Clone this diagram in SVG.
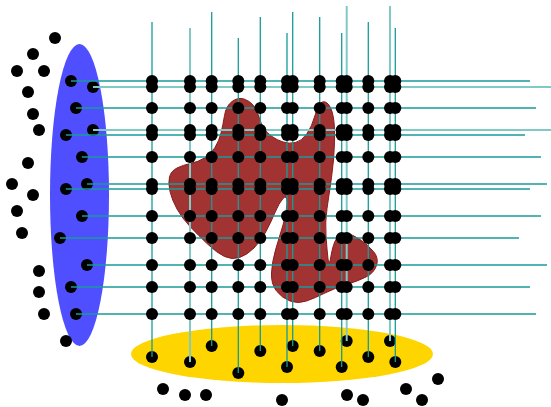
<svg xmlns="http://www.w3.org/2000/svg" width="551" height="407" viewBox="0 0 551 407">
<style>
.d{fill:#000}
.dk{stroke:#179b98;stroke-width:1.3;fill:none}
.lt{stroke:#80c9c5;stroke-width:2;fill:none}
</style>
<rect width="551" height="407" fill="#fff"/>
<g id="blue-region"><ellipse cx="79.5" cy="195" rx="29.5" ry="151" fill="#4f4fff"/></g>
<g id="yellow-region"><ellipse cx="282" cy="354" rx="151" ry="29" fill="#ffd500"/></g>
<g id="red-region"><path fill="#a13333" stroke="#8a1c1c" stroke-width="1" d="M232,101.5 Q238,97 244,99 Q250,101 253.5,105.5 Q257,110 259,117 Q261,124 264,128.5 Q267,133 272,136.5 Q277,140 283,142 Q289,144 295.5,142.5 Q302,141 307,133.5 Q312,126 314.5,117 Q317,108 320,104 Q323,100 327,103 Q331,106 333,115.5 Q335,125 334.5,142.5 Q334,160 331.5,177.5 Q329,195 327,208.5 Q325,222 326,236 Q327,250 328,259 Q329,268 331,256 Q333,244 336.5,238.5 Q340,233 346,233.5 Q352,234 360,239.5 Q368,245 373.5,251.5 Q379,258 376.5,265.5 Q374,273 366,277 Q358,281 346.5,284.5 Q335,288 325,293 Q315,298 306.5,301 Q298,304 290,301 Q282,298 276.5,291 Q271,284 271.5,273 Q272,262 275.5,250 Q279,238 283,225 Q287,212 287,203 Q287,194 283,198.5 Q279,203 275,212.5 Q271,222 266,231.5 Q261,241 254,248 Q247,255 239.5,257.5 Q232,260 224.5,256.5 Q217,253 207.5,244 Q198,235 190,226.5 Q182,218 177,209 Q172,200 170,191.5 Q168,183 169.5,177 Q171,171 177,168 Q183,165 190.5,163.5 Q198,162 204.5,158 Q211,154 215,147.5 Q219,141 221,133 Q223,125 224.5,115.5 Q226,106 232,101.5 Z"/></g>
<g id="free-dots" class="d">
<circle cx="55" cy="38" r="6"/><circle cx="33" cy="54" r="6"/><circle cx="17" cy="71" r="6"/><circle cx="44" cy="71" r="6"/>
<circle cx="28" cy="92" r="6"/><circle cx="33" cy="114" r="6"/><circle cx="39" cy="130" r="6"/><circle cx="28" cy="163" r="6"/>
<circle cx="12" cy="184" r="6"/><circle cx="33" cy="195" r="6"/><circle cx="17" cy="211" r="6"/><circle cx="22" cy="233" r="6"/>
<circle cx="39" cy="271" r="6"/><circle cx="39" cy="292" r="6"/><circle cx="44" cy="314" r="6"/><circle cx="66" cy="341" r="6"/>
<circle cx="163" cy="389" r="6"/><circle cx="185" cy="395" r="6"/><circle cx="206" cy="395" r="6"/><circle cx="282" cy="400" r="6"/>
<circle cx="347" cy="395" r="6"/><circle cx="363" cy="400" r="6"/><circle cx="406" cy="389" r="6"/><circle cx="422" cy="400" r="6"/><circle cx="438" cy="379" r="6"/>
</g>
<g id="end-dots" class="d">
<circle cx="71" cy="81" r="6"/><circle cx="93" cy="87" r="6"/><circle cx="76" cy="108" r="6"/><circle cx="93" cy="130" r="6"/>
<circle cx="66" cy="135" r="6"/><circle cx="82" cy="157" r="6"/><circle cx="87" cy="184" r="6"/><circle cx="66" cy="189" r="6"/>
<circle cx="82" cy="216" r="6"/><circle cx="60" cy="238" r="6"/><circle cx="87" cy="265" r="6"/><circle cx="71" cy="287" r="6"/><circle cx="76" cy="314" r="6"/>
<circle cx="152" cy="357" r="6"/><circle cx="190" cy="362" r="6"/><circle cx="211.7" cy="346" r="6"/><circle cx="238.3" cy="373" r="6"/>
<circle cx="260.3" cy="351" r="6"/><circle cx="287" cy="367" r="6"/><circle cx="292.7" cy="346" r="6"/><circle cx="319.7" cy="351" r="6"/>
<circle cx="341.7" cy="367" r="6"/><circle cx="346.7" cy="341" r="6"/><circle cx="368.3" cy="357" r="6"/><circle cx="390" cy="341" r="6"/><circle cx="395.3" cy="362" r="6"/>
</g>
<g id="connectors">
<line class="dk" x1="71" y1="81" x2="530" y2="81"/>
<line class="lt" x1="93" y1="87" x2="551" y2="87"/>
<line class="dk" x1="76" y1="108" x2="536" y2="108"/>
<line class="lt" x1="93" y1="130" x2="551" y2="130"/>
<line class="dk" x1="66" y1="135" x2="525" y2="135"/>
<line class="dk" x1="82" y1="157" x2="541" y2="157"/>
<line class="dk" x1="87" y1="184" x2="547" y2="184"/>
<line class="dk" x1="66" y1="189" x2="530" y2="189"/>
<line class="dk" x1="82" y1="216" x2="541" y2="216"/>
<line class="dk" x1="60" y1="238" x2="519" y2="238"/>
<line class="dk" x1="87" y1="265" x2="547" y2="265"/>
<line class="dk" x1="71" y1="287" x2="530" y2="287"/>
<line class="dk" x1="76" y1="314" x2="536" y2="314"/>
<line class="dk" x1="152" y1="22" x2="152" y2="357"/>
<line class="lt" x1="190" y1="28" x2="190" y2="362"/>
<line class="dk" x1="211.7" y1="12" x2="211.7" y2="346"/>
<line class="dk" x1="238.3" y1="38" x2="238.3" y2="373"/>
<line class="dk" x1="260.3" y1="17" x2="260.3" y2="351"/>
<line class="dk" x1="287" y1="33" x2="287" y2="367"/>
<line class="dk" x1="292.7" y1="12" x2="292.7" y2="346"/>
<line class="dk" x1="319.7" y1="17" x2="319.7" y2="351"/>
<line class="dk" x1="341.7" y1="33" x2="341.7" y2="367"/>
<line class="lt" x1="346.7" y1="6" x2="346.7" y2="341"/>
<line class="dk" x1="368.3" y1="22" x2="368.3" y2="357"/>
<line class="lt" x1="390" y1="6" x2="390" y2="341"/>
<line class="dk" x1="395.3" y1="28" x2="395.3" y2="362"/>
</g>
<defs>
<g id="row">
<circle cx="152" cy="0" r="6"/><circle cx="190" cy="0" r="6"/><circle cx="211.7" cy="0" r="6"/><circle cx="238.3" cy="0" r="6"/>
<circle cx="260.3" cy="0" r="6"/><circle cx="287" cy="0" r="6"/><circle cx="292.7" cy="0" r="6"/><circle cx="319.7" cy="0" r="6"/>
<circle cx="341.7" cy="0" r="6"/><circle cx="346.7" cy="0" r="6"/><circle cx="368.3" cy="0" r="6"/><circle cx="390" cy="0" r="6"/><circle cx="395.3" cy="0" r="6"/>
</g>
</defs>
<g id="grid-dots" class="d">
<use href="#row" y="81"/><use href="#row" y="87"/><use href="#row" y="108"/><use href="#row" y="130"/>
<use href="#row" y="135"/><use href="#row" y="157"/><use href="#row" y="184"/><use href="#row" y="189"/>
<use href="#row" y="216"/><use href="#row" y="238"/><use href="#row" y="265"/><use href="#row" y="287"/><use href="#row" y="314"/>
</g>
</svg>
